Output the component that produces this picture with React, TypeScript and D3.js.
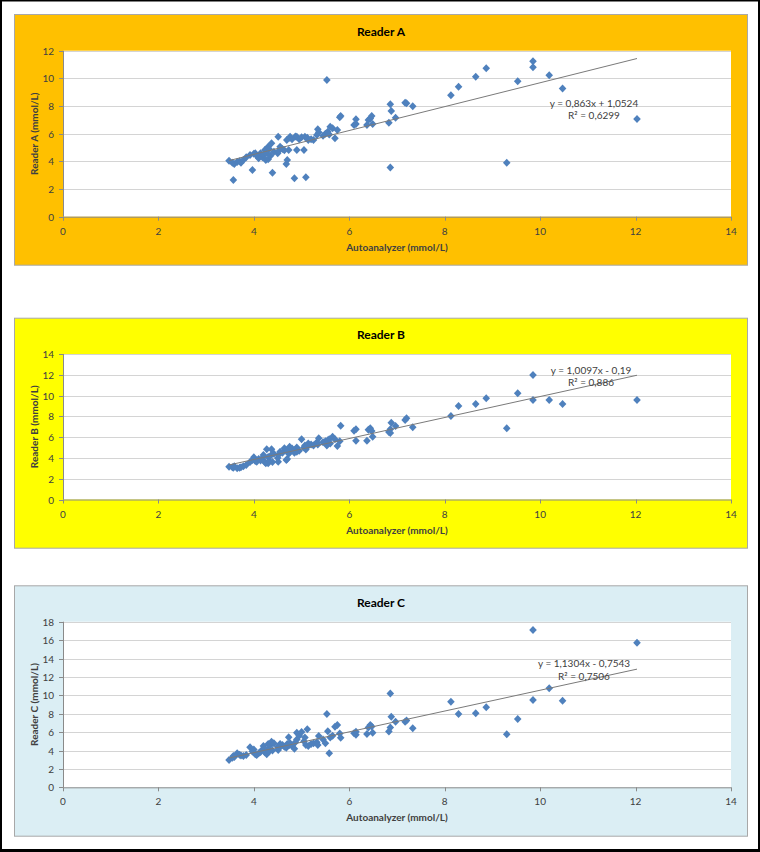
import React from "react";
import * as d3 from "d3";

// Glucose readings (mmol/L): autoanalyzer reference vs. three meter readers
const autoanalyzer = [
  3.48, 3.55, 3.57, 3.59, 3.65, 3.70, 3.73, 3.78, 3.84, 3.92, 3.97, 4.00, 4.03, 4.06, 4.10, 4.14,
  4.18, 4.20, 4.23, 4.25, 4.27, 4.30, 4.30, 4.32, 4.35, 4.37, 4.39, 4.42, 4.50, 4.51, 4.52, 4.55,
  4.60, 4.64, 4.68, 4.70, 4.69, 4.73, 4.75, 4.76, 4.80, 4.85, 4.87, 4.90, 4.90, 4.95, 5.00, 5.05,
  5.07, 5.09, 5.12, 5.14, 5.20, 5.25, 5.32, 5.34, 5.36, 5.45, 5.50, 5.53, 5.55, 5.58, 5.60, 5.65,
  5.70, 5.75, 5.80, 5.82, 6.10, 6.14, 6.14, 6.37, 6.40, 6.44, 6.47, 6.49, 6.83, 6.86, 6.86, 6.88,
  6.97, 7.17, 7.20, 7.33, 8.13, 8.29, 8.65, 8.87, 9.30, 9.53, 9.85, 9.85, 10.19, 10.47, 12.03,
];

const readerA = [
  4.05, 3.90, 2.65, 3.81, 3.95, 4.00, 3.90, 4.10, 4.29, 4.46, 3.38, 4.55, 4.58, 4.40, 4.22, 4.58,
  4.30, 4.45, 4.82, 4.10, 4.60, 5.06, 4.15, 4.90, 4.40, 5.31, 3.18, 4.70, 4.58, 5.78, 4.75, 5.06,
  4.90, 4.80, 3.81, 4.10, 5.55, 4.82, 5.70, 5.78, 5.60, 2.78, 5.80, 4.82, 5.78, 5.60, 5.75, 4.82,
  5.78, 2.85, 5.70, 5.55, 5.60, 5.55, 5.90, 6.32, 6.10, 5.85, 6.00, 9.88, 6.15, 5.95, 6.51, 6.40,
  5.67, 6.27, 7.19, 7.28, 6.63, 7.04, 6.70, 6.63, 6.99, 7.10, 7.28, 6.70, 6.80, 8.13, 3.55, 7.64,
  7.16, 8.24, 8.20, 7.98, 8.78, 9.40, 10.12, 10.73, 3.90, 9.79, 11.24, 10.80, 10.22, 9.26, 7.06,
];

const readerB = [
  3.16, 3.10, 3.05, 3.20, 3.00, 3.05, 3.10, 3.20, 3.32, 3.60, 3.80, 4.06, 3.70, 3.64, 3.90, 3.75,
  4.00, 4.28, 3.60, 3.50, 4.83, 3.48, 4.10, 3.70, 4.20, 4.83, 3.60, 4.40, 4.00, 3.64, 4.30, 4.60,
  4.50, 4.93, 3.80, 3.90, 4.70, 4.40, 5.08, 4.60, 4.90, 4.50, 4.80, 5.00, 4.60, 4.70, 5.79, 5.00,
  5.20, 4.80, 5.08, 5.40, 5.30, 5.20, 5.50, 5.30, 5.89, 5.50, 5.60, 5.20, 5.70, 5.80, 5.40, 6.04,
  5.80, 5.15, 5.60, 7.10, 6.62, 6.75, 5.66, 5.66, 6.70, 6.85, 6.60, 6.04, 6.50, 6.75, 6.40, 7.39,
  7.07, 7.65, 7.81, 6.95, 8.04, 9.00, 9.19, 9.74, 6.85, 10.22, 11.98, 9.58, 9.58, 9.19, 9.58,
];

const readerC = [
  2.97, 3.20, 3.40, 3.30, 3.69, 3.55, 3.45, 3.40, 3.50, 4.35, 3.90, 4.10, 3.60, 3.51, 3.70, 3.85,
  4.10, 4.49, 3.80, 4.00, 3.60, 4.71, 4.20, 3.90, 4.60, 4.96, 4.00, 4.80, 4.40, 4.05, 4.25, 4.71,
  4.60, 4.40, 4.30, 4.70, 4.50, 5.43, 4.60, 4.80, 4.50, 4.20, 4.90, 5.93, 5.20, 5.60, 6.00, 5.00,
  5.40, 4.60, 6.30, 4.50, 4.70, 4.80, 4.90, 4.60, 5.57, 5.20, 4.80, 7.97, 6.10, 3.69, 5.40, 5.60,
  6.59, 6.77, 5.85, 5.39, 5.87, 6.04, 5.70, 5.80, 6.50, 6.77, 6.60, 5.93, 6.07, 6.50, 10.20, 7.67,
  7.13, 7.13, 7.25, 6.41, 9.31, 7.97, 8.04, 8.70, 5.76, 7.42, 17.10, 9.49, 10.76, 9.42, 15.72,
];

// Linear trendline coefficients and R² per reader
const readerNames = ["Reader A", "Reader B", "Reader C"];
const trendSlopes = [0.863, 1.0097, 1.1304];
const trendIntercepts = [1.0524, -0.19, -0.7543];
const rSquared = [0.6299, 0.886, 0.7506];
const yAxisMax = [12, 14, 18];
const xTickValues = [0, 2, 4, 6, 8, 10, 12, 14];

const W = 760;
const H = 852;
const FONT = "Lato, 'Open Sans', sans-serif";
const TEXT = "#404040";
const MARKER = "#4F81BD";

const PLOT_LEFT = 63;
const PLOT_RIGHT = 731;

const panels = [
  { top: 14, height: 250.7, plotTop: 50.7, plotBottom: 216.7, bg: "#FFC000", eq: [594, 102.7] },
  { top: 317.7, height: 230, plotTop: 354, plotBottom: 499.5, bg: "#FFFF00", eq: [591, 370] },
  { top: 585.3, height: 250.4, plotTop: 621.7, plotBottom: 787.3, bg: "#DBEEF4", eq: [584, 663.3] },
];

const comma = (v: number) => String(Math.abs(v)).replace(".", ",");

const diamond = "M0,-4L3.8,0L0,4L-3.8,0Z";

function Panel({ idx, ys }: { idx: number; ys: number[] }) {
  const p = panels[idx];
  const x = d3.scaleLinear().domain([0, 14]).range([PLOT_LEFT, PLOT_RIGHT]);
  const y = d3.scaleLinear().domain([0, yAxisMax[idx]]).range([p.plotBottom, p.plotTop]);
  const yTicks = d3.range(0, yAxisMax[idx] + 1, 2);
  const slope = trendSlopes[idx];
  const intercept = trendIntercepts[idx];
  const [xMin, xMax] = d3.extent(autoanalyzer) as [number, number];
  const trend = d3
    .line<number>()
    .x((d) => x(d))
    .y((d) => y(slope * d + intercept))([xMin, xMax]);
  const eqText = `y = ${comma(slope)}x ${intercept < 0 ? "-" : "+"} ${comma(intercept)}`;
  const r2Text = `R² = ${comma(rSquared[idx])}`;
  const letter = readerNames[idx];
  const midY = (p.plotTop + p.plotBottom) / 2;

  return (
    <g>
      <rect x={14.5} y={p.top + 0.5} width={733} height={p.height} fill={p.bg} stroke="#a8a8a8" strokeWidth={1} />
      <text x={381} y={p.top + 17} textAnchor="middle" dominantBaseline="central" fontFamily={FONT} fontWeight="bold" fontSize={12} fill="#000">
        {letter}
      </text>
      <rect x={PLOT_LEFT} y={p.plotTop} width={PLOT_RIGHT - PLOT_LEFT} height={p.plotBottom - p.plotTop} fill="#fff" />
      {yTicks.filter((t) => t > 0).map((t) => (
        <line key={"g" + t} x1={PLOT_LEFT} x2={PLOT_RIGHT} y1={Math.round(y(t)) + 0.5} y2={Math.round(y(t)) + 0.5} stroke="#d4d4d4" strokeWidth={1} />
      ))}
      <line x1={PLOT_LEFT + 0.5} x2={PLOT_LEFT + 0.5} y1={p.plotTop} y2={p.plotBottom} stroke="#8a8a8a" />
      <line x1={PLOT_LEFT} x2={PLOT_RIGHT} y1={p.plotBottom + 0.5} y2={p.plotBottom + 0.5} stroke="#8a8a8a" />
      {yTicks.map((t) => (
        <g key={"y" + t}>
          <line x1={PLOT_LEFT - 4} x2={PLOT_LEFT} y1={Math.round(y(t)) + 0.5} y2={Math.round(y(t)) + 0.5} stroke="#8a8a8a" />
          <text x={54} y={y(t)} textAnchor="end" dominantBaseline="central" fontFamily={FONT} fontSize={10} fill={TEXT}>
            {t}
          </text>
        </g>
      ))}
      {xTickValues.map((t) => (
        <g key={"x" + t}>
          <line x1={Math.round(x(t)) + 0.5} x2={Math.round(x(t)) + 0.5} y1={p.plotBottom} y2={p.plotBottom + 4} stroke="#8a8a8a" />
          <text x={x(t)} y={p.plotBottom + 14} textAnchor="middle" dominantBaseline="central" fontFamily={FONT} fontSize={10} fill={TEXT}>
            {t}
          </text>
        </g>
      ))}
      <text x={(PLOT_LEFT + PLOT_RIGHT) / 2} y={p.plotBottom + 30} textAnchor="middle" dominantBaseline="central" fontFamily={FONT} fontWeight="bold" fontSize={10} fill={TEXT}>
        Autoanalyzer (mmol/L)
      </text>
      <text transform={`translate(34,${midY}) rotate(-90)`} textAnchor="middle" dominantBaseline="central" fontFamily={FONT} fontWeight="bold" fontSize={10} fill={TEXT}>
        {`${letter} (mmol/L)`}
      </text>
      {autoanalyzer.map((v, i) => (
        <path key={i} d={diamond} transform={`translate(${x(v)},${y(ys[i])})`} fill={MARKER} />
      ))}
      <path d={trend || ""} fill="none" stroke="#7a7a7a" strokeWidth={1} />
      <text x={p.eq[0]} y={p.eq[1]} textAnchor="middle" dominantBaseline="central" fontFamily={FONT} fontSize={10} fill={TEXT}>
        {eqText}
      </text>
      <text x={p.eq[0]} y={p.eq[1] + 12.3} textAnchor="middle" dominantBaseline="central" fontFamily={FONT} fontSize={10} fill={TEXT}>
        {r2Text}
      </text>
    </g>
  );
}

export default function App() {
  const series = [readerA, readerB, readerC];
  return (
    <svg width={W} height={H} viewBox={`0 0 ${W} ${H}`} style={{ position: "absolute", left: 0, top: 0, display: "block" }}>
      <rect x={0} y={0} width={W} height={H} fill="#000" />
      <rect x={2} y={1.5} width={W - 4} height={H - 4.5} fill="#fff" />
      {series.map((ys, i) => (
        <Panel key={i} idx={i} ys={ys} />
      ))}
    </svg>
  );
}
